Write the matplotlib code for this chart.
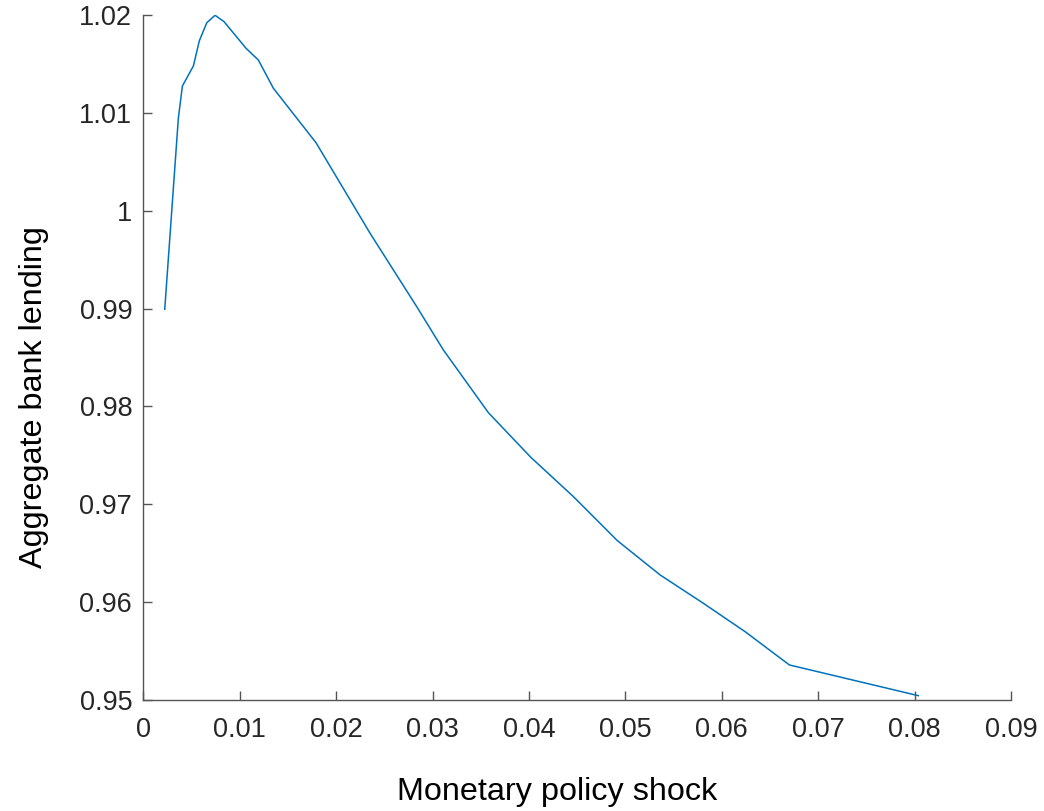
import matplotlib
matplotlib.use("Agg")
import matplotlib.pyplot as plt

plt.rcParams['font.family'] = ['Liberation Sans', 'DejaVu Sans']

# Monetary policy shock size and resulting aggregate bank lending
shock = [0.00222, 0.00363, 0.00405, 0.00519, 0.00581, 0.00658, 0.00744,
         0.00837, 0.01065, 0.01193, 0.01349, 0.01791, 0.02352, 0.02836,
         0.03112, 0.03579, 0.04019, 0.04461, 0.04917, 0.05360, 0.05809,
         0.06242, 0.06701, 0.08039]
lending = [0.98993, 1.00944, 1.01274, 1.01479, 1.01737, 1.01921, 1.01997,
           1.01932, 1.01660, 1.01540, 1.01251, 1.00695, 0.99769, 0.99019,
           0.98577, 0.97936, 0.97480, 0.97078, 0.96628, 0.96278, 0.95988,
           0.95698, 0.95358, 0.95044]

xticks = [0, 0.01, 0.02, 0.03, 0.04, 0.05, 0.06, 0.07, 0.08, 0.09]
xticklabels = ['0', '0.01', '0.02', '0.03', '0.04', '0.05', '0.06', '0.07', '0.08', '0.09']
yticks = [0.95, 0.96, 0.97, 0.98, 0.99, 1.0, 1.01, 1.02]
yticklabels = ['0.95', '0.96', '0.97', '0.98', '0.99', '1', '1.01', '1.02']

fig = plt.figure(figsize=(10.44, 8.11), dpi=100)
ax = fig.add_axes([0.1373, 0.1369, 0.9684 - 0.1373, 0.9815 - 0.1369])

ax.plot(shock, lending, color='#0072BD', lw=1.1)

ax.set_xlim(0, 0.09)
ax.set_ylim(0.95, 1.02)
ax.set_xticks(xticks)
ax.set_xticklabels(xticklabels)
ax.set_yticks(yticks)
ax.set_yticklabels(yticklabels)

for side in ('top', 'right'):
    ax.spines[side].set_visible(False)
for side in ('left', 'bottom'):
    ax.spines[side].set_color('#555555')
    ax.spines[side].set_linewidth(1.0)

ax.tick_params(axis='both', direction='in', length=6.5, width=1.0,
               color='#555555', labelcolor='#262626', labelsize=19.5)
ax.tick_params(axis='x', pad=12)
ax.tick_params(axis='y', pad=8)

fig.text(557.5 / 1044, 1 - 800 / 811, 'Monetary policy shock', fontsize=23.3,
         ha='center', va='baseline', color='black')
fig.text(41.7 / 1044, 1 - 397 / 811, 'Aggregate bank lending', fontsize=23.3,
         rotation=90, rotation_mode='anchor', ha='center', va='baseline',
         color='black')

fig.savefig('out.png', dpi=100)
